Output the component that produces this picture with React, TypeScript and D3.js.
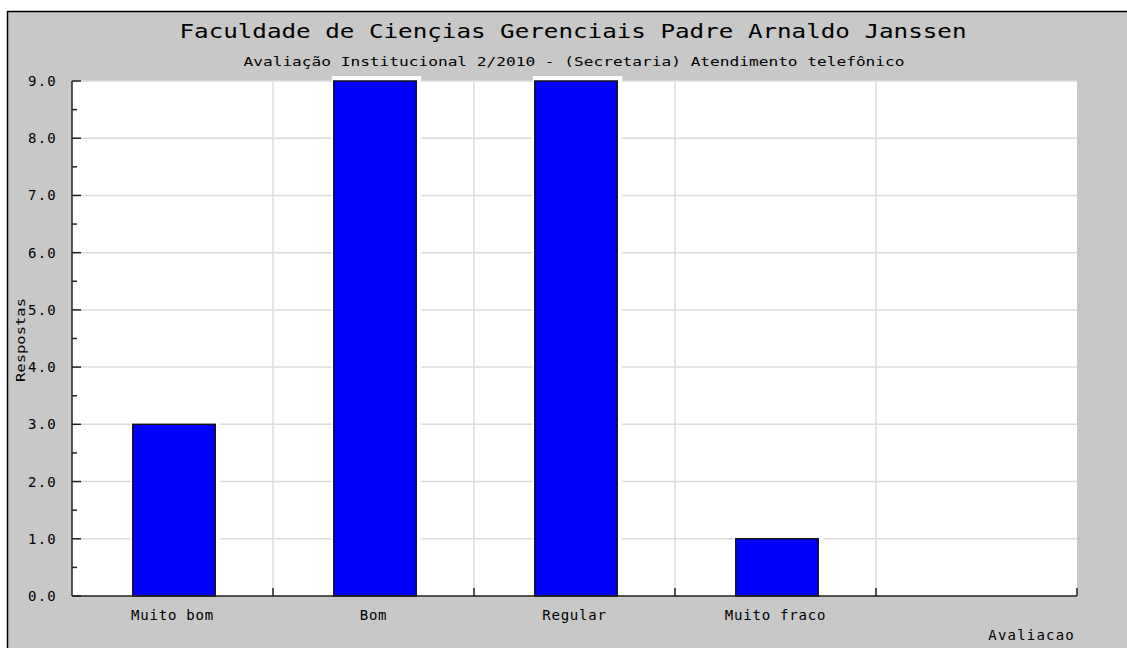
import React from 'react';
import * as d3 from 'd3';

const categories = ['Muito bom', 'Bom', 'Regular', 'Muito fraco', ''];
const respostas = [3, 9, 9, 1, 0];
const yTicks = [0, 1, 2, 3, 4, 5, 6, 7, 8, 9];
const yMinorTicks = [0.5, 1.5, 2.5, 3.5, 4.5, 5.5, 6.5, 7.5, 8.5];

const title = 'Faculdade de Ciençias Gerenciais Padre Arnaldo Janssen';
const subtitle = 'Avaliação Institucional 2/2010 - (Secretaria) Atendimento telefônico';

const W = 1127;
const H = 648;
const plot = { left: 72, right: 1077, top: 81, bottom: 596 };
const FONT = '"DejaVu Sans Mono", "Liberation Mono", monospace';

const App: React.FC = () => {
  const x = d3.scaleBand<string>()
    .domain(categories.map((c, i) => String(i)))
    .range([plot.left, plot.right])
    .padding(0);
  const y = d3.scaleLinear().domain([0, 9]).range([plot.bottom, plot.top]);
  const barW = x.bandwidth() * 0.41;
  const bounds = categories.map((c, i) => (x(String(i)) as number) + x.bandwidth());

  return (
    <div style={{ position: 'absolute', left: 0, top: 0 }}>
      <svg width={W} height={H} style={{ display: 'block' }} fontFamily={FONT}>
        <rect x={0} y={0} width={W} height={H} fill="#ffffff" />
        <rect x={7} y={11} width={W - 7} height={H - 11} fill="#c8c8c8" />
        <line x1={7} x2={W} y1={11.5} y2={11.5} stroke="#000" strokeWidth={1.5} />
        <line x1={7.5} x2={7.5} y1={11} y2={H} stroke="#000" strokeWidth={1.5} />

        <text x={573} y={38} textAnchor="middle" fontSize={19}
          textLength={787} lengthAdjust="spacingAndGlyphs" fill="#000">{title}</text>
        <text x={574} y={66} textAnchor="middle" fontSize={13}
          textLength={661} lengthAdjust="spacingAndGlyphs" fill="#000">{subtitle}</text>

        {/* plot background */}
        <rect x={plot.left} y={plot.top} width={plot.right - plot.left} height={plot.bottom - plot.top} fill="#fff" />

        {/* grid */}
        {yTicks.slice(1).map(t => (
          <line key={'g' + t} x1={plot.left} x2={plot.right} y1={y(t)} y2={y(t)} stroke="#dcdcdc" strokeWidth={1.5} />
        ))}
        {bounds.slice(0, 4).map((b, i) => (
          <line key={'v' + i} x1={b} x2={b} y1={plot.top} y2={plot.bottom} stroke="#dcdcdc" strokeWidth={1.5} />
        ))}

        {/* bars */}
        {respostas.map((v, i) => {
          if (v <= 0) return null;
          const cx = (x(String(i)) as number) + x.bandwidth() / 2 + 1.5;
          return (
            <g key={'b' + i}>
              <rect x={cx - barW / 2 - 2} y={y(v) - 5} width={barW + 7} height={plot.bottom - y(v) + 5} fill="#fff" />
              <rect x={cx - barW / 2} y={y(v)} width={barW} height={plot.bottom - y(v)} fill="#0000ff" stroke="#111" strokeWidth={1.5} />
            </g>
          );
        })}

        {/* y axis */}
        <line x1={plot.left} x2={plot.left} y1={plot.top} y2={plot.bottom} stroke="#222" strokeWidth={1.5} />
        {yTicks.map(t => (
          <g key={'yt' + t}>
            <line x1={plot.left} x2={plot.left + 9} y1={y(t)} y2={y(t)} stroke="#222" strokeWidth={1.5} />
            <text x={57} y={y(t) + 5} textAnchor="end" fontSize={14} letterSpacing={1.2} fill="#000">{t.toFixed(1)}</text>
          </g>
        ))}
        {yMinorTicks.map(t => (
          <line key={'ym' + t} x1={plot.left} x2={plot.left + 5} y1={y(t)} y2={y(t)} stroke="#222" strokeWidth={1.5} />
        ))}

        {/* x axis */}
        <line x1={plot.left} x2={plot.right} y1={plot.bottom} y2={plot.bottom} stroke="#222" strokeWidth={1.5} />
        {bounds.map((b, i) => (
          <line key={'xt' + i} x1={b} x2={b} y1={plot.bottom} y2={plot.bottom - 8} stroke="#222" strokeWidth={1.5} />
        ))}
        {categories.map((c, i) => (
          <text key={'xl' + i} x={(x(String(i)) as number) + x.bandwidth() / 2} y={620} textAnchor="middle"
            fontSize={14} letterSpacing={0.8} fill="#000">{c}</text>
        ))}

        <text x={1075} y={640} textAnchor="end" fontSize={14} letterSpacing={1.2} fill="#000">Avaliacao</text>
        <text transform="translate(25,340) rotate(-90)" textAnchor="middle" fontSize={13}
          textLength={84} lengthAdjust="spacingAndGlyphs" fill="#000">Respostas</text>
      </svg>
    </div>
  );
};

export default App;
